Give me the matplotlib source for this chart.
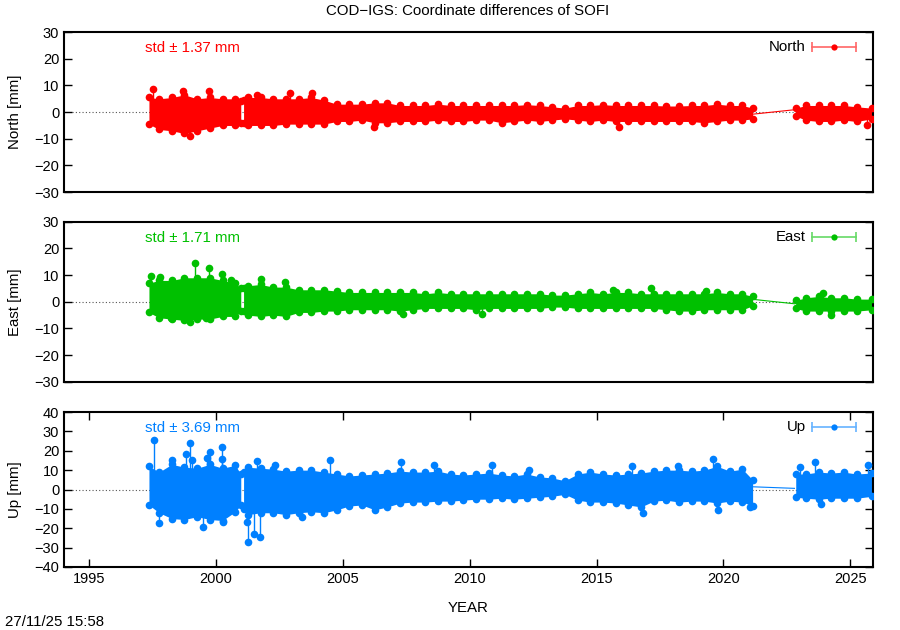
import matplotlib
matplotlib.use('Agg')
import matplotlib.pyplot as plt
import numpy as np

plt.rcParams['font.family'] = ['Liberation Sans', 'DejaVu Sans']
plt.rcParams['font.size'] = 10

# sample epochs (years) of the envelope, three data segments
years_a = [1997.35, 1997.75, 1998.25, 1998.75, 1999.25, 1999.75, 2000.25, 2000.75, 2000.97]
years_b = [2001.08] + list(np.arange(2001.25, 2020.8, 0.5)) + [2021.15]
years_c = [2022.85, 2023.25, 2023.75, 2024.25, 2024.75, 2025.25, 2025.85]

# North [mm] upper / lower envelope
north_hi_a = [5.5, 5.0, 5.5, 6.5, 5.0, 5.5, 5.0, 5.0, 4.0]
north_lo_a = [-4.5, -6.5, -7.0, -8.0, -7.0, -6.0, -5.0, -5.0, -4.0]
north_hi_b = [4.5, 5.5, 5.5, 5.0, 5.0, 5.0, 5.5, 4.5, 3.0, 3.0, 3.0, 3.5, 3.5, 2.5, 2.5, 2.5,
              3.0, 2.5, 2.5, 2.5, 2.5, 2.5, 2.5, 2.8, 2.5, 2.0, 1.5, 2.5, 2.5, 2.8, 2.5, 2.5,
              2.5, 2.5, 2.3, 2.3, 2.5, 2.5, 3.0, 2.5, 2.5, 1.5]
north_lo_b = [-4.0, -5.0, -5.0, -5.0, -4.5, -4.5, -4.5, -4.5, -3.5, -3.5, -3.0, -4.0, -4.0, -3.5,
              -3.5, -3.5, -3.0, -3.5, -3.5, -3.0, -3.0, -4.0, -3.5, -3.0, -3.5, -3.0, -2.5, -3.0,
              -3.5, -3.0, -3.5, -3.5, -3.5, -3.5, -3.5, -3.5, -3.5, -4.0, -3.5, -3.0, -3.0, -2.5]
north_hi_c = [1.5, 2.5, 2.5, 2.5, 2.5, 2.0, 1.5]
north_lo_c = [-1.5, -3.0, -3.5, -3.5, -3.0, -3.5, -2.5]
north_out_t = [1997.5, 1998.7, 1999.7, 1998.95, 2001.6, 2002.9, 2003.77, 2006.24, 2015.9, 2025.65]
north_out_v = [8.5, 8.0, 8.0, -9.0, 6.3, 7.0, 7.0, -5.4, -5.4, -5.0]
north_gap = [-0.75, 0.9]

# East [mm]
east_hi_a = [7.0, 8.0, 8.0, 9.0, 9.0, 9.0, 8.0, 7.0, 5.0]
east_lo_a = [-4.0, -6.0, -6.5, -7.0, -6.5, -6.5, -5.5, -5.5, -3.5]
east_hi_b = [5.0, 6.0, 6.5, 5.5, 5.5, 4.5, 4.5, 4.5, 4.0, 3.5, 3.5, 3.5, 3.5, 3.5, 3.5, 3.0,
             3.5, 3.0, 3.0, 3.0, 3.0, 3.0, 3.0, 3.0, 3.0, 2.5, 2.5, 3.0, 3.5, 3.0, 3.5, 3.5,
             3.0, 3.0, 3.0, 3.0, 3.0, 3.0, 3.5, 3.0, 3.0, 2.0]
east_lo_b = [-3.5, -5.0, -5.5, -5.0, -5.5, -4.0, -4.0, -3.5, -3.5, -3.0, -3.0, -3.0, -3.0, -3.5,
             -3.0, -2.5, -2.5, -2.5, -2.5, -3.0, -2.5, -2.5, -2.5, -2.5, -2.5, -2.0, -2.0, -2.5,
             -2.5, -2.5, -2.5, -2.5, -2.5, -2.5, -3.0, -3.5, -3.5, -3.0, -3.0, -3.0, -3.0, -1.5]
east_hi_c = [0.5, 1.5, 2.0, 1.5, 1.5, 1.0, 1.0]
east_lo_c = [-2.5, -3.5, -3.5, -3.5, -3.5, -3.5, -3.0]
east_out_t = [1997.43, 1997.8, 1999.18, 1999.73, 2000.22, 2000.59, 1998.2, 1998.98, 1999.6,
              2001.77, 2002.72, 2007.36, 2010.5, 2015.65, 2017.15, 2019.3, 2023.93, 2024.25]
east_out_v = [9.6, 9.2, 14.6, 12.7, 10.5, 8.0, -6.2, -7.5, -6.2,
              8.6, 7.5, -4.7, -4.5, 4.6, 5.0, 4.2, 3.4, -5.0]
east_gap = [0.9, -0.75]

# Up [mm]
up_hi_a = [12.0, 9.0, 13.0, 11.5, 11.0, 13.0, 11.0, 12.5, 8.0]
up_lo_a = [-8.0, -12.0, -15.0, -15.5, -14.0, -15.5, -16.0, -11.5, -8.0]
up_hi_b = [9.0, 11.5, 11.0, 10.5, 9.5, 10.0, 10.0, 9.0, 8.0, 7.0, 7.5, 8.0, 8.5, 9.5, 9.0, 9.0,
           9.5, 8.0, 7.5, 8.0, 8.5, 7.5, 7.0, 8.0, 6.5, 6.0, 4.5, 8.0, 9.0, 8.0, 7.5, 8.0,
           8.5, 9.5, 10.0, 10.0, 9.5, 10.0, 12.0, 9.5, 10.5, 5.0]
up_lo_b = [-10.0, -13.0, -12.0, -12.0, -13.0, -12.0, -11.5, -12.0, -10.5, -8.5, -8.0, -10.5, -9.0,
           -7.0, -6.5, -6.5, -6.0, -6.0, -5.5, -5.0, -5.0, -4.5, -5.0, -4.5, -4.0, -3.5, -2.5,
           -5.5, -6.5, -6.5, -7.0, -8.0, -9.0, -6.0, -5.5, -6.5, -6.0, -6.0, -7.0, -6.0, -6.5, -8.5]
up_hi_c = [8.0, 8.0, 9.0, 8.5, 9.0, 8.0, 8.5]
up_lo_c = [-4.0, -4.5, -5.0, -4.5, -4.5, -4.5, -3.5]
up_out_t = [1997.54, 1997.76, 1998.26, 1998.81, 1998.98, 1999.05, 1999.47, 1999.64, 1999.76,
            2000.22, 2000.22, 2000.26, 2001.22, 2001.27, 2001.48, 2001.61, 2001.72, 2002.3,
            2003.39, 2004.5, 2007.29, 2008.58, 2010.88, 2012.33, 2016.4, 2016.83, 2018.2,
            2019.57, 2019.79, 2021.04, 2023.0, 2023.6, 2023.83, 2025.7]
up_out_v = [25.4, -17.4, 15.2, 18.1, 24.2, 15.2, -19.6, 16.5, 19.4,
            22.0, 16.0, -16.9, -16.9, -27.1, -23.0, 14.6, -24.6, 12.6,
            -14.0, 15.2, 14.3, 12.6, 12.6, 10.0, 12.2, -12.2, 12.2,
            16.0, -10.5, -8.8, 11.7, 14.3, -7.4, 12.6]
up_gap = [1.4, 0.6]
gap_t = [2021.17, 2022.8]

std_text = ['std \u00b1 1.37 mm', 'std \u00b1 1.71 mm', 'std \u00b1 3.69 mm']
names = ['North', 'East', 'Up']
colors = ['#ff0000', '#00c000', '#0080ff']
light = ['#ff6666', '#66d966', '#66b3ff']

panels = [
    (north_hi_a, north_lo_a, north_hi_b, north_lo_b, north_hi_c, north_lo_c,
     north_out_t, north_out_v, north_gap),
    (east_hi_a, east_lo_a, east_hi_b, east_lo_b, east_hi_c, east_lo_c,
     east_out_t, east_out_v, east_gap),
    (up_hi_a, up_lo_a, up_hi_b, up_lo_b, up_hi_c, up_lo_c,
     up_out_t, up_out_v, up_gap),
]

fig = plt.figure(figsize=(9, 6.3), dpi=100)
boxes = [(0.0711, 0.695, 0.899, 0.254), (0.0711, 0.394, 0.899, 0.254), (0.0711, 0.100, 0.899, 0.246)]
fs = 10.8

for i, (box, data) in enumerate(zip(boxes, panels)):
    ax = fig.add_axes(box)
    hi_a, lo_a, hi_b, lo_b, hi_c, lo_c, out_t, out_v, gap = data
    c = colors[i]

    # dotted zero line
    ax.plot([1994.3, 2025.9], [0, 0], color='#555555', lw=0.8, ls=(0, (1, 2)), zorder=1)

    for yrs, hi, lo in [(years_a, hi_a, lo_a), (years_b, hi_b, lo_b), (years_c, hi_c, lo_c)]:
        ax.fill_between(yrs, lo, hi, color=c, lw=0, zorder=2)
        ax.plot(yrs, hi, 'o', color=c, ms=5.5, mew=0, zorder=3)
        ax.plot(yrs, lo, 'o', color=c, ms=5.5, mew=0, zorder=3)

    # outliers with their error bar / connecting line
    ax.vlines(out_t, 0, out_v, color=c, lw=1, zorder=2)
    ax.plot(out_t, out_v, 'o', color=c, ms=5.5, mew=0, zorder=3)

    # line across the data gap
    ax.plot(gap_t, gap, color=c, lw=0.8, zorder=2)

    ax.set_xlim(1994.0, 2025.9)
    if i < 2:
        ax.set_ylim(-30, 30)
        ax.set_yticks(np.arange(-30, 31, 10))
        ax.set_xticks([])
    else:
        ax.set_ylim(-40, 40)
        ax.set_yticks(np.arange(-40, 41, 10))
        ax.set_xticks(np.arange(1995, 2026, 5))
        ax.set_xlabel('YEAR', fontsize=fs, labelpad=11)
    ax.tick_params(direction='in', length=6, width=1, top=True, right=True, labelsize=10.5)
    for s in ax.spines.values():
        s.set_linewidth(1.5)
    ax.set_ylabel(names[i] + ' [mm]', fontsize=fs, labelpad=9)

    ax.text(0.1, 0.9, std_text[i], color=c, transform=ax.transAxes,
            ha='left', va='center', fontsize=fs)

    # legend: name + horizontal error bar sample
    ax.text(0.917, 0.906, names[i], transform=ax.transAxes, ha='right', va='center', fontsize=fs)
    ax.plot([0.925, 0.979], [0.906, 0.906], color=light[i], lw=1.2, transform=ax.transAxes)
    ax.plot([0.925, 0.979], [0.906, 0.906], '|', color=light[i], ms=7, mew=1.2, transform=ax.transAxes)
    ax.plot([0.952], [0.906], 'o', color=c, ms=4.5, mew=0, transform=ax.transAxes)

fig.text(0.52, 0.982, 'COD\u2212IGS: Coordinate differences of SOFI', ha='center', va='center', fontsize=fs)
fig.text(0.006, 0.012, '27/11/25 15:58', ha='left', va='center', fontsize=fs)

fig.savefig('out.png', dpi=100)
